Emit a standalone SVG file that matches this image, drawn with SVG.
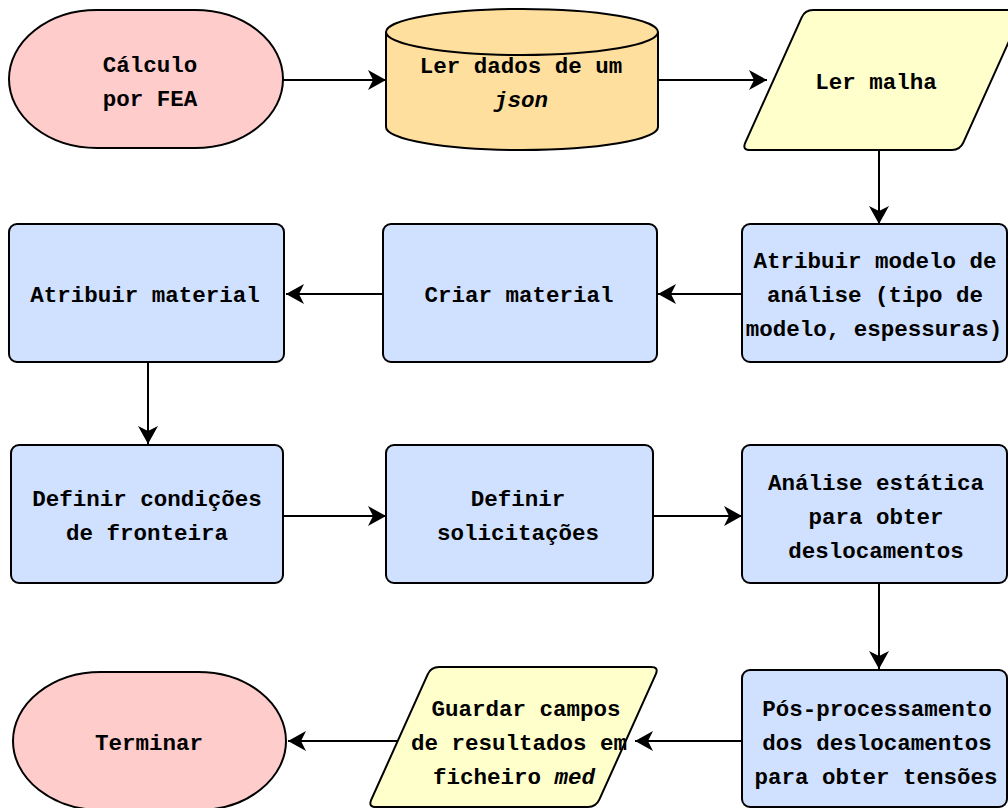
<svg xmlns="http://www.w3.org/2000/svg" width="1008" height="808" viewBox="0 0 1008 808">
<defs>
<style>
.term{fill:#FFCCCC;stroke:#000;stroke-width:2}
.db{fill:#FFDF9E;stroke:#000;stroke-width:2}
.io{fill:#FFFFCC;stroke:#000;stroke-width:2}
.proc{fill:#D0E0FF;stroke:#000;stroke-width:2}
text{font-family:"Liberation Mono","Courier New",monospace;font-weight:bold;font-size:22.5px;fill:#000;text-anchor:middle}
.it{font-style:italic}
.edge{stroke:#000;stroke-width:2;fill:none;marker-end:url(#ah)}
</style>
<marker id="ah" markerUnits="userSpaceOnUse" viewBox="0 0 18 20" markerWidth="18" markerHeight="20" refX="18" refY="10" orient="auto">
<path d="M0,0 L18,10 L0,20 L5,10 Z" fill="#000"/>
</marker>
</defs>
<rect width="1008" height="808" fill="#fff"/>
<g id="connectors">
<line class="edge" x1="283" y1="80" x2="386" y2="80"/>
<line class="edge" x1="658" y1="80" x2="767" y2="80"/>
<line class="edge" x1="879" y1="150" x2="879" y2="224"/>
<line class="edge" x1="742" y1="294" x2="658" y2="294"/>
<line class="edge" x1="383" y1="294" x2="286" y2="294"/>
<line class="edge" x1="148" y1="362" x2="148" y2="444"/>
<line class="edge" x1="283" y1="516" x2="386" y2="516"/>
<line class="edge" x1="653" y1="516" x2="742" y2="516"/>
<line class="edge" x1="879" y1="583" x2="879" y2="669"/>
<line class="edge" x1="742" y1="741" x2="635" y2="741"/>
<line class="edge" x1="397" y1="741" x2="288" y2="741"/>
</g>
<g id="start">
<rect class="term" x="9" y="10" width="274" height="138" rx="88" ry="69"/>
<text x="150" y="72">Cálculo</text>
<text x="150" y="106">por FEA</text>
</g>
<g id="read-json">
<path class="db" d="M386,32 A136,23 0 0 1 658,32 L658,127 A136,23 0 0 1 386,127 Z"/>
<path class="db" d="M386,32 A136,23 0 0 0 658,32" fill="none"/>
<text x="521" y="73">Ler dados de um</text>
<text x="521" y="107" class="it">json</text>
</g>
<g id="read-mesh">
<path class="io" d="M813,10 L1015,10 Q1023,10 1019.7,17.3 L963.3,142.7 Q960,150 952,150 L750,150 Q742,150 745.3,142.7 L801.7,17.3 Q805,10 813,10 Z"/>
<text x="876" y="89">Ler malha</text>
</g>
<g id="model">
<rect class="proc" x="742" y="224" width="265" height="138" rx="8"/>
<text x="875" y="268">Atribuir modelo de</text>
<text x="875" y="302">análise (tipo de</text>
<text x="874" y="336">modelo, espessuras)</text>
</g>
<g id="create-material">
<rect class="proc" x="383" y="224" width="274" height="138" rx="8"/>
<text x="519" y="302">Criar material</text>
</g>
<g id="assign-material">
<rect class="proc" x="9" y="224" width="275" height="138" rx="8"/>
<text x="145" y="302">Atribuir material</text>
</g>
<g id="boundary">
<rect class="proc" x="11" y="445" width="272" height="138" rx="8"/>
<text x="147" y="506">Definir condições</text>
<text x="147" y="540">de fronteira</text>
</g>
<g id="loads">
<rect class="proc" x="386" y="445" width="267" height="138" rx="8"/>
<text x="518" y="506">Definir</text>
<text x="518" y="540">solicitações</text>
</g>
<g id="static">
<rect class="proc" x="742" y="445" width="265" height="138" rx="8"/>
<text x="876" y="490">Análise estática</text>
<text x="876" y="524">para obter</text>
<text x="876" y="558">deslocamentos</text>
</g>
<g id="post">
<rect class="proc" x="742" y="670" width="265" height="137" rx="8"/>
<text x="877" y="716">Pós-processamento</text>
<text x="877" y="750">dos deslocamentos</text>
<text x="876" y="784">para obter tensões</text>
</g>
<g id="save">
<path class="io" d="M439,667 L651,667 Q659,667 655.7,674.3 L599.3,799.7 Q596,807 588,807 L376,807 Q368,807 371.3,799.7 L427.7,674.3 Q431,667 439,667 Z"/>
<text x="526" y="716">Guardar campos</text>
<text x="519" y="750">de resultados em</text>
<text x="514" y="784">ficheiro <tspan class="it">med</tspan></text>
</g>
<g id="end">
<rect class="term" x="13" y="672" width="273" height="138" rx="88" ry="69"/>
<text x="149" y="750">Terminar</text>
</g>
</svg>
